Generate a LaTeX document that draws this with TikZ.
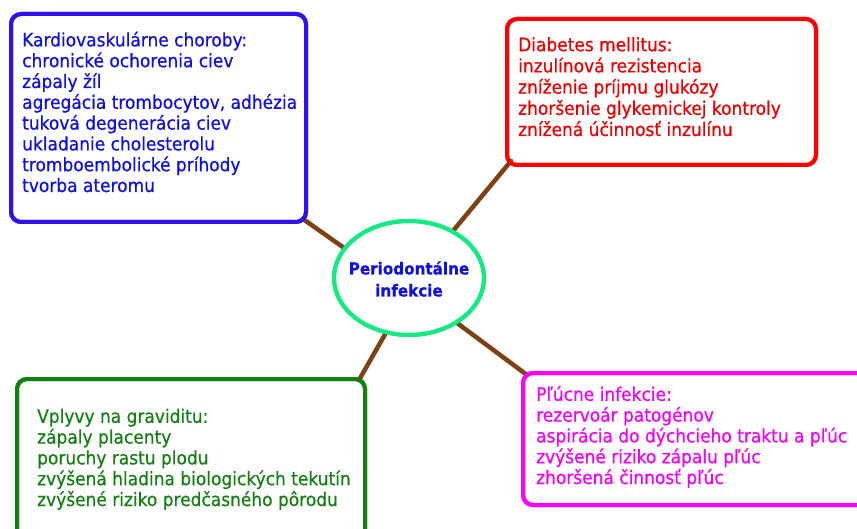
\documentclass[tikz,border=0pt]{standalone}
\usepackage{fontspec}
\setmainfont{DejaVu Sans}[FakeStretch=0.92,FakeBold=0.6]
\usetikzlibrary{shapes.geometric,calc}
\definecolor{kvblue}{RGB}{48,16,240}
\definecolor{kvtext}{RGB}{16,16,224}
\definecolor{dmred}{RGB}{255,0,0}
\definecolor{dmtext}{RGB}{238,0,0}
\definecolor{gvgreen}{RGB}{16,128,16}
\definecolor{gvtext}{RGB}{20,128,20}
\definecolor{plmag}{RGB}{255,0,255}
\definecolor{pltext}{RGB}{245,0,245}
\definecolor{elgreen}{RGB}{16,235,130}
\definecolor{conbrown}{RGB}{125,65,20}
\tikzset{
  panel/.style={rectangle, rounded corners=10pt, line width=4pt, fill=white,
    inner sep=0pt, outer sep=0pt, anchor=north west},
  paneltext/.style={anchor=base west, align=left, inner sep=0pt,
    font=\fontsize{18.5}{20.8}\selectfont},
  link/.style={line width=4.5pt, draw=conbrown, line cap=round},
}
\begin{document}
\begin{tikzpicture}[x=1pt,y=-1pt]
\clip (0,0) rectangle (857,529);
\fill[white] (0,0) rectangle (857,529);
% centre
\node[ellipse, draw=elgreen, line width=4pt, fill=white, minimum width=150pt,
  minimum height=114pt, inner sep=0pt] (el) at (409,278) {};
\node[align=center, inner sep=0pt, text=kvtext,
  font=\fontsize{16.5}{22}\selectfont\bfseries] (elt) at (409,279)
  {Periodontálne\\infekcie};
% panels
\node[panel, draw=kvblue, minimum width=295pt, minimum height=208pt] (kv) at (11,14) {};
\node[panel, draw=dmred, minimum width=309pt, minimum height=146pt] (dm) at (507,19) {};
\node[panel, draw=gvgreen, minimum width=348pt, minimum height=190pt] (gv) at (17,379) {};
\node[panel, draw=plmag, minimum width=360pt, minimum height=132pt] (pl) at (523,373) {};
% connectors
\draw[link] ($(kv.south east)+(-3,-3)$) -- (el.155);
\draw[link] ($(dm.south west)+(4,-4)$) -- (el.47.5);
\draw[link] ($(gv.north east)+(-6,1)$) -- (el.247);
\draw[link] ($(pl.north west)+(4,2)$) -- (el.317.5);
% redraw panels on top of connector ends
\node[panel, draw=kvblue, minimum width=295pt, minimum height=208pt, fill=none] at (11,14) {};
\node[panel, draw=dmred, minimum width=309pt, minimum height=146pt, fill=none] at (507,19) {};
\node[panel, draw=gvgreen, minimum width=348pt, minimum height=190pt, fill=none] at (17,379) {};
\node[panel, draw=plmag, minimum width=360pt, minimum height=132pt, fill=none] at (523,373) {};
\node[ellipse, draw=elgreen, line width=4pt, minimum width=150pt,
  minimum height=114pt, inner sep=0pt] at (409,278) {};
% texts (anchored at the baseline of their last line)
\node[paneltext, text=kvtext] (kvt) at (22,192) {Kardiovaskulárne choroby:\\
chronické ochorenia ciev\\
zápaly žíl\\
agregácia trombocytov, adhézia\\
tuková degenerácia ciev\\
ukladanie cholesterolu\\
tromboembolické príhody\\
tvorba ateromu};
\node[paneltext, text=dmtext, font=\fontsize{18.5}{21.2}\selectfont] (dmt) at (518,136) {Diabetes mellitus:\\
inzulínová rezistencia\\
zníženie príjmu glukózy\\
zhoršenie glykemickej kontroly\\
znížená účinnosť inzulínu};
\node[paneltext, text=gvtext] (gvt) at (37,506) {Vplyvy na graviditu:\\
zápaly placenty\\
poruchy rastu plodu\\
zvýšená hladina biologických tekutín\\
zvýšené riziko predčasného pôrodu};
\node[paneltext, text=pltext] (plt) at (536,484) {Pľúcne infekcie:\\
rezervoár patogénov\\
aspirácia do dýchcieho traktu a pľúc\\
zvýšené riziko zápalu pľúc\\
zhoršená činnosť pľúc};
\end{tikzpicture}
\end{document}
